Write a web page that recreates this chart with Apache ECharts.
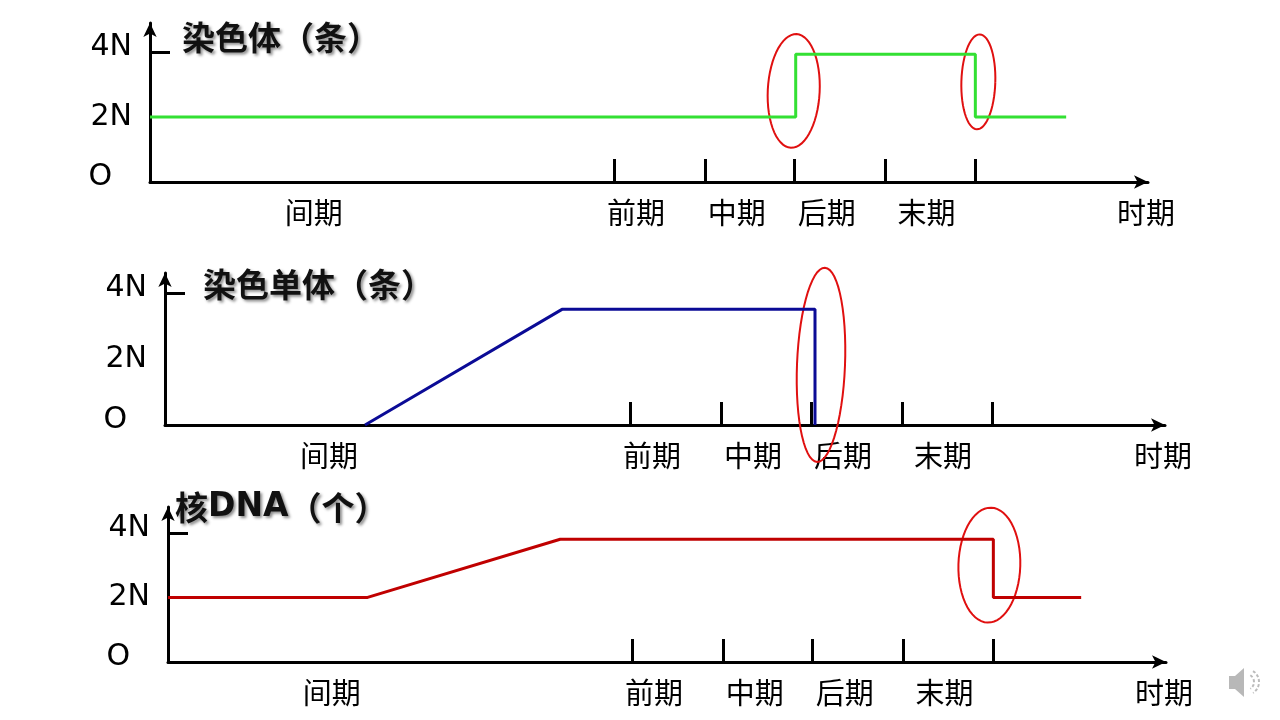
<!DOCTYPE html>
<html><head><meta charset="utf-8">
<script src="https://cdn.jsdelivr.net/npm/echarts@6/dist/echarts.min.js"></script>
<style>html,body{margin:0;padding:0;background:#fff}#c{width:1280px;height:720px}</style>
</head><body><div id="c"></div>
<script>
// ---- data ----
const xTicks = [465, 556, 646, 737, 827];
const xLabelPos = [164, 487, 588, 678, 778, 998];
const xLabelText = ['间期', '前期', '中期', '后期', '末期', '时期'];
const yLabelPos = [0.15, 2, 4.15];
const yLabelText = ['O', '2N', '4N'];
const yTicks = [4];
const titles = ['染色体（条）', '染色单体（条）', '核{d|DNA}（个）'];

const chromosomeX = [0, 647, 647, 827, 827, 918];
const chromosomeY = [2, 2, 3.93, 3.93, 2, 2];
const chromatidX = [200, 397, 650, 650];
const chromatidY = [0, 3.5, 3.5, 0];
const dnaX = [0, 200, 393, 827, 827, 915];
const dnaY = [2, 2, 3.8, 3.8, 2, 2];

// hand-drawn red ovals: [cx, cy, rx, ry, tilt]
const chromosomeMarks = [[645, 2.8, 26, 1.75, 0.05], [830, 3.08, 17, 1.46, 0.03]];
const chromatidMarks = [[656, 1.82, 24, 2.94, 0.04]];
const dnaMarks = [[823, 3.0, 31, 1.78, 0.03]];

// ---- layout ----
const grids = [
  {left: 150, top: 23, width: 998, height: 159},
  {left: 165, top: 273, width: 1000, height: 152},
  {left: 168, top: 507, width: 998, height: 155}
];
const yMax = [4.89, 4.6, 4.8];
const titlePos = [[182, 21], [203, 268], [175, 491]];
const lineColors = ['#33e033', '#0b0b96', '#c00000'];

const pairs = (xs, ys) => xs.map((x, i) => [x, ys[i]]);
const seriesData = [pairs(chromosomeX, chromosomeY), pairs(chromatidX, chromatidY), pairs(dnaX, dnaY)];
const markData = [chromosomeMarks, chromatidMarks, dnaMarks];

const xLabelMap = {}; xLabelPos.forEach((v, i) => xLabelMap[v] = xLabelText[i]);
const yLabelMap = {}; yLabelPos.forEach((v, i) => yLabelMap[v] = yLabelText[i]);

const axisLineStyle = {color: '#000', width: 3};
const xAxes = [], yAxes = [], series = [], titleArr = [];
for (let i = 0; i < 3; i++) {
  xAxes.push({
    type: 'value', gridIndex: i, min: 0, max: 1000,
    splitLine: {show: false},
    axisLine: {show: true, lineStyle: axisLineStyle, symbol: ['none', 'arrow'], symbolSize: [10, 14], symbolOffset: [0, 0]},
    axisTick: {show: true, inside: true, length: 23, lineStyle: {color: '#000', width: 3}, customValues: xTicks},
    axisLabel: {
      show: true, margin: 16, customValues: xLabelPos, showMaxLabel: true,
      formatter: v => xLabelMap[v] || '',
      color: '#000', fontSize: 29, fontFamily: 'Noto Sans CJK SC'
    }
  });
  yAxes.push({
    type: 'value', gridIndex: i, min: 0, max: yMax[i],
    splitLine: {show: false},
    axisLine: {show: true, onZero: false, lineStyle: axisLineStyle, symbol: ['none', 'arrow'], symbolSize: [10, 14], symbolOffset: [0, 0]},
    axisTick: {show: true, inside: true, length: 20, lineStyle: {color: '#000', width: 3}, customValues: yTicks},
    axisLabel: {
      show: true, margin: 18, customValues: yLabelPos,
      formatter: v => { const t = yLabelMap[v] || ''; return t === 'O' ? '{o|O}' : t; },
      color: '#000', fontSize: 30, fontFamily: 'DejaVu Sans',
      rich: {o: {fontSize: 30, fontFamily: 'DejaVu Sans', color: '#000', padding: [0, 20, 0, 0]}}
    }
  });
  const shadow = {textShadowColor: 'rgba(0,0,0,0.45)', textShadowBlur: 3, textShadowOffsetX: 2, textShadowOffsetY: 2};
  titleArr.push({
    text: titles[i], left: titlePos[i][0], top: titlePos[i][1], padding: 0,
    textStyle: Object.assign({
      fontSize: 33, fontWeight: 'bold', color: '#111', fontFamily: 'Noto Sans CJK SC',
      rich: {d: Object.assign({fontSize: 33, fontWeight: 'bold', color: '#111', fontFamily: 'DejaVu Sans'}, shadow)}
    }, shadow)
  });
  series.push({
    type: 'line', xAxisIndex: i, yAxisIndex: i, data: seriesData[i],
    symbol: 'none', lineStyle: {color: lineColors[i], width: 3}, silent: true, clip: false
  });
  series.push({
    type: 'custom', xAxisIndex: i, yAxisIndex: i, data: markData[i], clip: false, silent: true,
    renderItem: function (params, api) {
      const c = api.coord([api.value(0), api.value(1)]);
      const s = api.size([api.value(2), api.value(3)]);
      const tilt = api.value(4);
      const pts = [];
      for (let k = 0; k <= 60; k++) {
        const a = k / 60 * Math.PI * 2;
        const ex = s[0] * Math.cos(a), ey = s[1] * Math.sin(a);
        pts.push([c[0] + ex * Math.cos(tilt) - ey * Math.sin(tilt), c[1] + ex * Math.sin(tilt) + ey * Math.cos(tilt)]);
      }
      return {type: 'polyline', shape: {points: pts}, style: {stroke: '#e01010', lineWidth: 2, fill: null}};
    }
  });
}

const chart = echarts.init(document.getElementById('c'));
chart.setOption({
  animation: false,
  backgroundColor: '#fff',
  title: titleArr,
  grid: grids,
  xAxis: xAxes,
  yAxis: yAxes,
  series: series,
  graphic: [
    {type: 'polygon', shape: {points: [[1229, 676], [1235, 676], [1244, 668], [1244, 697], [1235, 689], [1229, 689]]}, style: {fill: '#b8b8b8'}},
    {type: 'arc', shape: {cx: 1246, cy: 682, r: 8, startAngle: -1.0, endAngle: 1.0}, style: {stroke: '#bbb', lineWidth: 2, lineDash: [3, 2], fill: null}},
    {type: 'arc', shape: {cx: 1246, cy: 682, r: 13, startAngle: -1.0, endAngle: 1.0}, style: {stroke: '#bbb', lineWidth: 2, lineDash: [3, 2], fill: null}}
  ]
});
</script>
</body></html>
